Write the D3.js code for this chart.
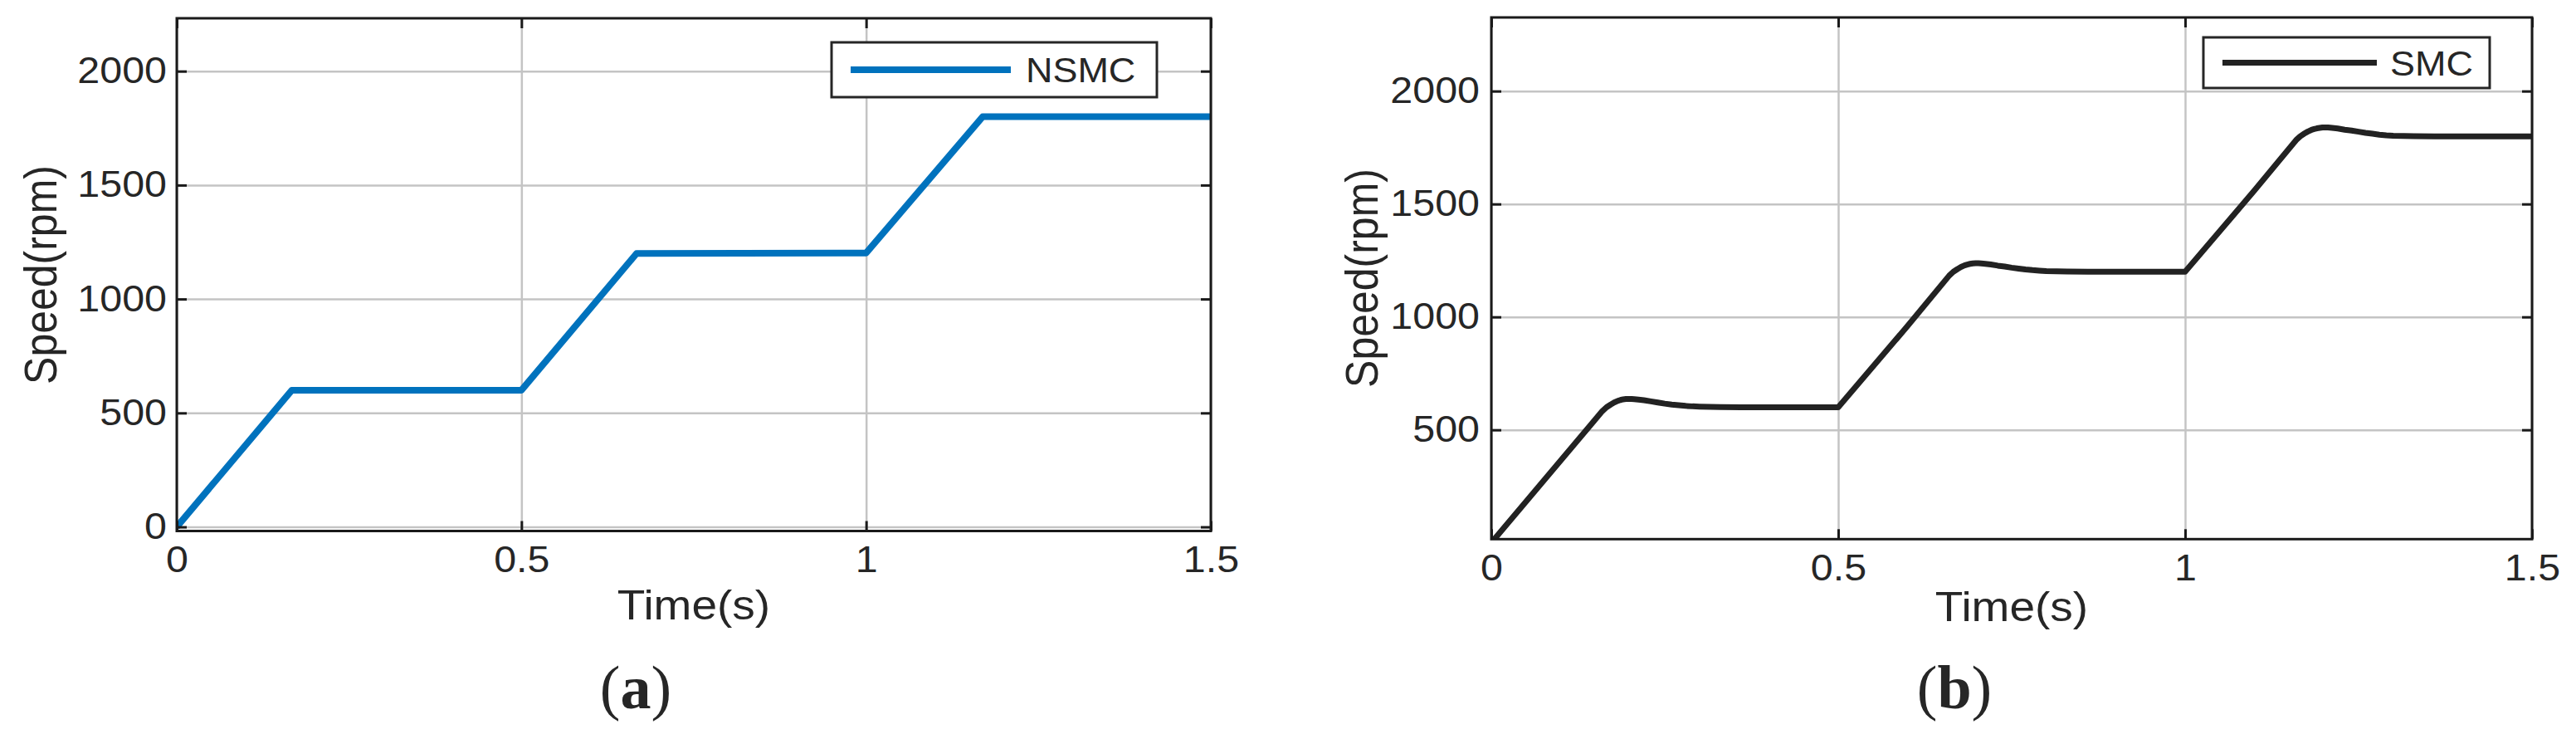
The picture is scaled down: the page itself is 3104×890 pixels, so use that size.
<!DOCTYPE html>
<html>
<head>
<meta charset="utf-8">
<script src="https://cdn.jsdelivr.net/npm/d3@7"></script>
<style>
  html, body { margin: 0; padding: 0; background: #fff; }
  svg { display: block; }
  text { font-family: "Liberation Sans", Arial, Helvetica, sans-serif; fill: #262626; }
</style>
</head>
<body>
<svg id="fig" width="3104" height="890"></svg>
<script>
// time ticks shared by both panels
const timeTicks = [0, 0.5, 1, 1.5];
const timeTickLabels = ["0", "0.5", "1", "1.5"];

// (a) NSMC speed response
const timeNSMC = [0, 0.167, 0.5, 0.667, 1.0, 1.169, 1.5];
const speedNSMC = [0, 600, 600, 1200, 1202, 1800, 1800];
const speedTicksA = [0, 500, 1000, 1500, 2000];

// (b) SMC speed response
const timeSMC = [0, 0.12, 0.16, 0.166, 0.172, 0.177, 0.182, 0.186, 0.19, 0.194, 0.198, 0.202, 0.206, 0.212, 0.22, 0.23, 0.24, 0.25, 0.26, 0.27, 0.28, 0.29, 0.30, 0.315, 0.33, 0.36, 0.40, 0.5,
                 0.6, 0.66, 0.666, 0.672, 0.677, 0.682, 0.686, 0.69, 0.694, 0.698, 0.702, 0.706, 0.712, 0.72, 0.73, 0.74, 0.75, 0.76, 0.77, 0.78, 0.79, 0.80, 0.815, 0.83, 0.86, 0.90, 1.0,
                 1.1, 1.16, 1.166, 1.172, 1.177, 1.182, 1.186, 1.19, 1.194, 1.198, 1.202, 1.206, 1.212, 1.22, 1.23, 1.24, 1.25, 1.26, 1.27, 1.28, 1.29, 1.30, 1.315, 1.33, 1.36, 1.40, 1.5];
const speedSMC = [0, 437, 583, 600, 612, 621, 628, 632, 635, 636.5, 637, 637, 636, 634, 631, 626, 621, 616, 612, 609, 606, 604, 603, 602, 601, 600, 600, 600,
                  960, 1183, 1200, 1212, 1221, 1228, 1232, 1235, 1237, 1238, 1238, 1237, 1235, 1232, 1227, 1223, 1218, 1214, 1210, 1207, 1205, 1203, 1202, 1201, 1200, 1200, 1200,
                  1560, 1783, 1800, 1812, 1821, 1828, 1832, 1835, 1837, 1839, 1839, 1839, 1837, 1834, 1829, 1825, 1820, 1815, 1811, 1807, 1804, 1802, 1801, 1800, 1799, 1799, 1799];
const speedTicksB = [500, 1000, 1500, 2000];

const svg = d3.select("#fig");
svg.append("rect").attr("width", 3104).attr("height", 890).attr("fill", "#fff");

// the source figure is slightly wider than tall, so text gets stretched sideways a bit
function widen(sel, k) {
    sel.each(function () {
        const w = this.getComputedTextLength();
        d3.select(this).attr("textLength", w * k).attr("lengthAdjust", "spacingAndGlyphs");
    });
}

function drawPanel(p) {
    const data = p.t.map((t, i) => ({ t: t, v: p.v[i] }));
    const w = p.right - p.left, h = p.bottom - p.top;

    const x = d3.scaleLinear().domain([0, 1.5]).range([p.left, p.right]);
    const y = d3.scaleLinear().domain(p.yDomain).range([p.bottom, p.top]);

    const g = svg.append("g");

    // grid
    g.append("g")
        .attr("transform", `translate(0,${p.bottom})`)
        .call(d3.axisBottom(x).tickValues(timeTicks).tickSizeInner(-h).tickSizeOuter(0).tickFormat(""))
        .call(s => s.select(".domain").remove())
        .selectAll("line").attr("stroke", "#c4c4c4").attr("stroke-width", 2.5);
    g.append("g")
        .attr("transform", `translate(${p.left},0)`)
        .call(d3.axisLeft(y).tickValues(p.yTicks).tickSizeInner(-w).tickSizeOuter(0).tickFormat(""))
        .call(s => s.select(".domain").remove())
        .selectAll("line").attr("stroke", "#c4c4c4").attr("stroke-width", 2.5);

    // curve
    const clipId = "clip-" + p.name;
    svg.append("clipPath").attr("id", clipId)
        .append("rect").attr("x", p.left).attr("y", p.top).attr("width", w).attr("height", h);
    g.append("path")
        .datum(data)
        .attr("clip-path", `url(#${clipId})`)
        .attr("fill", "none")
        .attr("stroke", p.color)
        .attr("stroke-width", p.lineWidth)
        .attr("stroke-linejoin", "round")
        .attr("d", d3.line().x(d => x(d.t)).y(d => y(d.v)));

    // axes with inward ticks on all four sides
    g.append("g")
        .attr("transform", `translate(0,${p.bottom})`)
        .call(d3.axisBottom(x).tickValues(timeTicks).tickSizeInner(-12).tickSizeOuter(0)
            .tickPadding(p.xPad).tickFormat((d, i) => timeTickLabels[i]));
    g.append("g")
        .attr("transform", `translate(${p.left},0)`)
        .call(d3.axisLeft(y).tickValues(p.yTicks).tickSizeInner(-12).tickSizeOuter(0)
            .tickPadding(p.yPad).tickFormat(d => String(d)));
    g.append("g")
        .attr("transform", `translate(0,${p.top})`)
        .call(d3.axisTop(x).tickValues(timeTicks).tickSizeInner(-12).tickSizeOuter(0).tickFormat(""));
    g.append("g")
        .attr("transform", `translate(${p.right},0)`)
        .call(d3.axisRight(y).tickValues(p.yTicks).tickSizeInner(-12).tickSizeOuter(0).tickFormat(""));

    g.selectAll(".domain").remove();
    g.selectAll(".tick line").filter(function () { return this.getAttribute("stroke") === "currentColor"; })
        .attr("stroke", "#1a1a1a").attr("stroke-width", 3);

    const tickText = g.selectAll(".tick text")
        .attr("fill", "#262626")
        .style("font-family", '"Liberation Sans", Arial, sans-serif')
        .style("font-size", "44px");
    widen(tickText, 1.1);

    // axes box
    g.append("rect")
        .attr("x", p.left).attr("y", p.top).attr("width", w).attr("height", h)
        .attr("fill", "none").attr("stroke", "#1a1a1a").attr("stroke-width", 3);

    // axis titles
    const xt = g.append("text")
        .attr("x", (p.left + p.right) / 2).attr("y", p.xTitleY)
        .attr("text-anchor", "middle")
        .style("font-size", "50px")
        .text("Time(s)");
    widen(xt, 1.1);

    g.append("text")
        .attr("transform", `translate(${p.yTitleX},${p.yTitleCY}) rotate(-90) scale(1,1.1)`)
        .attr("text-anchor", "middle")
        .style("font-size", "50px")
        .text("Speed(rpm)");

    // legend
    const lg = g.append("g");
    lg.append("rect")
        .attr("x", p.leg.x).attr("y", p.leg.y).attr("width", p.leg.w).attr("height", p.leg.h)
        .attr("fill", "#fff").attr("stroke", "#262626").attr("stroke-width", 3);
    lg.append("line")
        .attr("x1", p.leg.x + 23).attr("x2", p.leg.x + 23 + p.leg.lineLen)
        .attr("y1", p.leg.y + p.leg.h / 2).attr("y2", p.leg.y + p.leg.h / 2)
        .attr("stroke", p.color).attr("stroke-width", p.lineWidth);
    const lt = lg.append("text")
        .attr("x", p.leg.textX).attr("y", p.leg.y + p.leg.h / 2 + 15)
        .style("font-size", "42px")
        .text(p.name);
    widen(lt, 1.07);

    // sub-figure caption
    const cap = svg.append("text")
        .attr("x", p.capX).attr("y", 853)
        .attr("text-anchor", "middle")
        .style("font-family", '"Liberation Serif", "Times New Roman", serif')
        .style("font-size", "74px")
        .attr("fill", "#000");
    cap.append("tspan").text("(");
    cap.append("tspan").style("font-weight", "bold").text(p.capLetter);
    cap.append("tspan").text(")");
}

drawPanel({
    name: "NSMC", capLetter: "a", capX: 766,
    t: timeNSMC, v: speedNSMC, yTicks: speedTicksA, yDomain: [-18, 2232],
    left: 213, right: 1459, top: 22, bottom: 639.5,
    color: "#0072bd", lineWidth: 8,
    xPad: 18, yPad: 12, xTitleY: 746, yTitleX: 68, yTitleCY: 331,
    leg: { x: 1002, y: 51, w: 392, h: 66, lineLen: 193, textX: 1236 }
});

drawPanel({
    name: "SMC", capLetter: "b", capX: 2355,
    t: timeSMC, v: speedSMC, yTicks: speedTicksB, yDomain: [16, 2326],
    left: 1797, right: 3051, top: 21, bottom: 649.3,
    color: "#222222", lineWidth: 7,
    xPad: 18, yPad: 14, xTitleY: 748, yTitleX: 1660, yTitleCY: 335,
    leg: { x: 2655, y: 45, w: 345, h: 61, lineLen: 186, textX: 2880 }
});
</script>
</body>
</html>
